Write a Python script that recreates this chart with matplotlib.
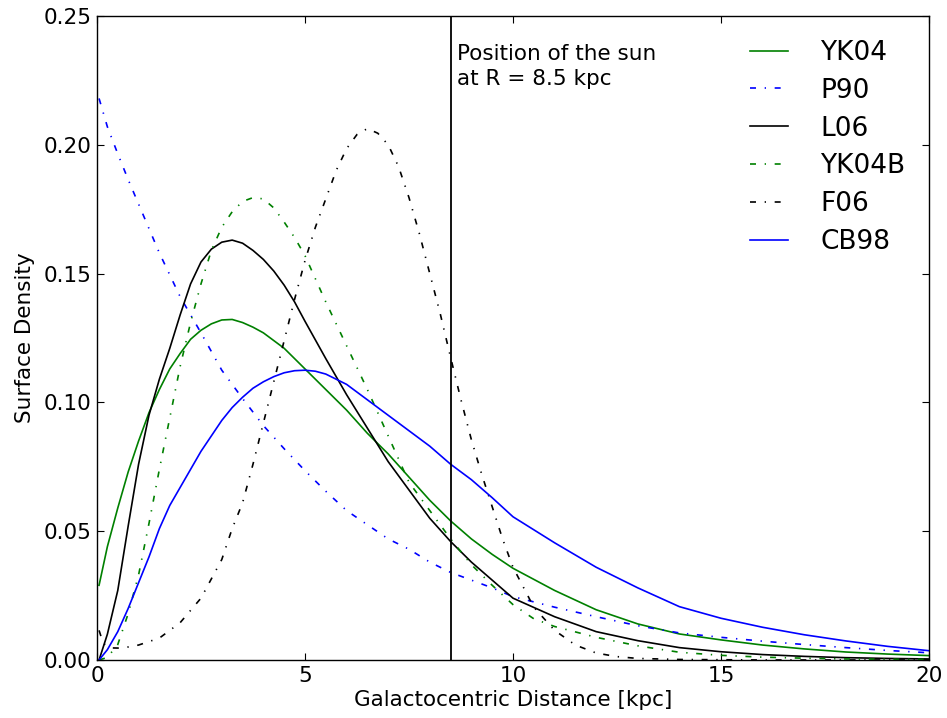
import matplotlib
matplotlib.use("Agg")
import matplotlib.pyplot as plt

# Values (surface density vs galactocentric distance)
yk04_r = [0.05, 0.25, 0.5, 0.75, 1, 1.25, 1.5, 1.75, 2, 2.25, 2.5, 2.75, 3, 3.25, 3.5,
          3.75, 4, 4.25, 4.5, 5, 5.5, 6, 6.5, 7, 7.5, 8, 8.5,
          9, 9.5, 10, 11, 12, 13, 14, 15, 16, 17, 18, 19, 20]
yk04 = [0.029, 0.044, 0.059, 0.073, 0.085, 0.096, 0.105, 0.113, 0.119, 0.1245, 0.128,
        0.1305, 0.132, 0.1322, 0.131, 0.1292, 0.127, 0.124, 0.121, 0.113,
        0.105, 0.097, 0.088, 0.080, 0.071, 0.062, 0.054, 0.047, 0.041, 0.0356, 0.027,
        0.0195, 0.014, 0.0101, 0.0078, 0.0058, 0.0043, 0.0031, 0.0023, 0.0017]

p90_r = [0.05, 0.25, 0.5, 0.75, 1, 1.25, 1.5, 2, 2.5, 3, 3.5, 4, 4.5, 5, 5.5, 6, 6.5,
         7, 7.5, 8, 8.5, 9, 9.5, 10, 11, 12, 13, 14, 15, 16, 17, 18, 19, 20]
p90 = [0.218, 0.207, 0.1965, 0.1865, 0.177, 0.1675, 0.158, 0.141, 0.127, 0.1125,
       0.1015, 0.091, 0.082, 0.0735, 0.0655, 0.058, 0.0525, 0.047, 0.043, 0.038, 0.034,
       0.031, 0.028, 0.0246, 0.0205, 0.0168, 0.0133, 0.0105, 0.0088, 0.0073, 0.006,
       0.0048, 0.0037, 0.0028]

l06_r = [0.05, 0.25, 0.5, 0.75, 1, 1.25, 1.5, 1.75, 2, 2.25, 2.5, 2.75, 3, 3.25, 3.5,
         3.75, 4, 4.25, 4.5, 4.75, 5, 5.5, 6, 6.5, 7, 7.5, 8, 8.5, 9, 9.5, 10, 11, 12,
         13, 14, 15, 16, 17, 18, 19, 20]
l06 = [0.0, 0.010, 0.027, 0.052, 0.076, 0.095, 0.109, 0.121, 0.134, 0.146, 0.1545,
       0.1595, 0.1622, 0.163, 0.1618, 0.159, 0.1555, 0.151, 0.1455, 0.139, 0.1315,
       0.117, 0.103, 0.090, 0.077, 0.066, 0.055, 0.046, 0.038, 0.031, 0.024, 0.0168,
       0.011, 0.0075, 0.0048, 0.0032, 0.0021, 0.0014, 0.0009, 0.0006, 0.0004]

yk04b_r = [0.05, 0.25, 0.5, 0.75, 1, 1.25, 1.5, 1.75, 2, 2.25, 2.5, 2.75, 3, 3.25, 3.5,
           3.75, 4, 4.25, 4.5, 4.75, 5, 5.25, 5.5, 5.75, 6, 6.25, 6.5, 6.75, 7, 7.5, 8,
           8.5, 9, 9.5, 10, 10.5, 11, 12, 13, 14, 15, 16, 17, 18, 19, 20]
yk04b = [0.0, 0.001, 0.006, 0.018, 0.033, 0.053, 0.074, 0.094, 0.114, 0.131, 0.146,
         0.159, 0.168, 0.174, 0.178, 0.1795, 0.179, 0.1755, 0.170, 0.164, 0.157, 0.148,
         0.139, 0.1305, 0.122, 0.1135, 0.105, 0.096, 0.087, 0.069, 0.058, 0.047, 0.037,
         0.029, 0.0215, 0.016, 0.013, 0.0088, 0.0055, 0.0030, 0.0018, 0.0011, 0.0007,
         0.0004, 0.0003, 0.0002]

f06_r = [0.05, 0.15, 0.3, 0.6, 1, 1.5, 2, 2.5, 3, 3.25, 3.5, 3.75, 4, 4.25, 4.5, 4.75,
         5, 5.25, 5.5, 5.75, 6, 6.25, 6.5, 6.75, 7, 7.25, 7.5, 7.75, 8, 8.25, 8.5,
         8.75, 9, 9.25, 9.5, 9.75, 10, 10.5, 11, 11.5, 12, 12.5, 13, 14, 15, 16, 18, 20]
f06 = [0.0115, 0.0065, 0.0047, 0.0046, 0.0058, 0.0085, 0.0145, 0.024, 0.039, 0.051,
       0.061, 0.076, 0.092, 0.108, 0.124, 0.140, 0.155, 0.168, 0.179, 0.190, 0.1985,
       0.204, 0.2063, 0.2045, 0.2000, 0.1915, 0.1795, 0.1655, 0.150, 0.1345, 0.1175,
       0.1010, 0.0855, 0.072, 0.0595, 0.047, 0.036, 0.0205, 0.0115, 0.0058, 0.0027,
       0.0013, 0.0006, 0.0002, 0.0001, 0.0, 0.0, 0.0]

cb98_r = [0.05, 0.25, 0.5, 0.75, 1, 1.25, 1.5, 1.75, 2, 2.25, 2.5, 2.75, 3, 3.25, 3.5,
          3.75, 4, 4.25, 4.5, 4.75, 5, 5.25, 5.5, 5.75, 6, 6.5, 7, 7.5, 8, 8.5, 9, 9.5,
          10, 11, 12, 13, 14, 15, 16, 17, 18, 19, 20]
cb98 = [0.0, 0.004, 0.011, 0.020, 0.030, 0.040, 0.051, 0.060, 0.067, 0.074, 0.081,
        0.087, 0.093, 0.098, 0.102, 0.1055, 0.108, 0.110, 0.1115, 0.1123, 0.1125,
        0.1121, 0.111, 0.109, 0.107, 0.101, 0.095, 0.089, 0.083, 0.076, 0.070, 0.063,
        0.0556, 0.0455, 0.036, 0.028, 0.0207, 0.0162, 0.0127, 0.0098, 0.0074, 0.0053,
        0.0036]

r_sun = 8.5

# old-style dash-dot: dash, gap, dot, gap
dashdot = (0, (3.6, 5.2, 0.8, 5.2))

fig, ax = plt.subplots(figsize=(9.47, 7.18), dpi=100)
fig.patch.set_facecolor("white")
fig.subplots_adjust(left=0.1024, right=0.981, top=0.9777, bottom=0.0808)

lw = 1.2
ax.plot(yk04_r, yk04, color="#008000", lw=lw, label="YK04")
ax.plot(p90_r, p90, color="#0000ff", lw=lw, linestyle=dashdot, label="P90")
ax.plot(l06_r, l06, color="black", lw=lw, label="L06")
ax.plot(yk04b_r, yk04b, color="#008000", lw=lw, linestyle=dashdot, label="YK04B")
ax.plot(f06_r, f06, color="black", lw=lw, linestyle=dashdot, label="F06")
ax.plot(cb98_r, cb98, color="#0000ff", lw=lw, label="CB98")

ax.axvline(r_sun, color="black", lw=1.3)
ax.text(8.65, 0.2392, "Position of the sun\nat R = 8.5 kpc", fontsize=15.5,
        va="top", ha="left", linespacing=1.35)

ax.set_xlim(0, 20)
ax.set_ylim(0, 0.25)
ax.set_xticks([0, 5, 10, 15, 20])
ax.set_yticks([0.0, 0.05, 0.10, 0.15, 0.20, 0.25])
ax.set_yticklabels(["0.00", "0.05", "0.10", "0.15", "0.20", "0.25"])
ax.tick_params(direction="in", top=True, right=True, length=5, width=0.8,
               labelsize=15.5, pad=4)
for s in ax.spines.values():
    s.set_linewidth(1.0)

ax.set_xlabel("Galactocentric Distance [kpc]", fontsize=15.5, labelpad=3)
ax.set_ylabel("Surface Density", fontsize=15.5, labelpad=6)

ax.legend(loc="upper right", frameon=False, fontsize=19, handlelength=1.45,
          handletextpad=1.2, labelspacing=0.45, borderaxespad=0.5)

plt.savefig("out.png", dpi=100)
